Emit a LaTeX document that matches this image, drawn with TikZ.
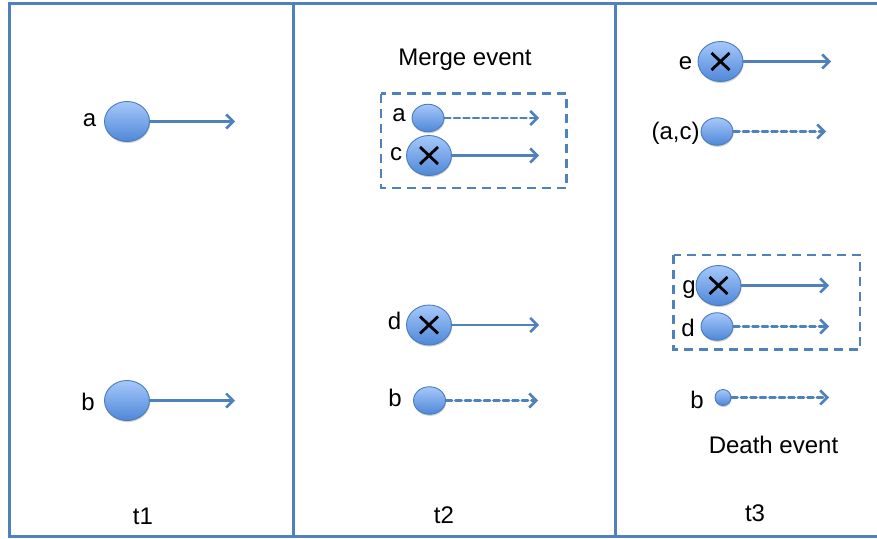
\documentclass[tikz,border=0pt]{standalone}
\usepackage{fontspec}
\setmainfont{Liberation Sans}
\usetikzlibrary{arrows.meta,shapes.geometric,shadows}
\definecolor{frameblue}{HTML}{4F81BD}
\definecolor{ballTop}{HTML}{A6C8FA}
\definecolor{ballMid}{HTML}{80AEF0}
\definecolor{ballBot}{HTML}{4E87D8}
\definecolor{ballEdge}{HTML}{4A7BBB}
\begin{document}
\begin{tikzpicture}[x=1pt,y=-1pt,
  frame/.style={draw=frameblue,line width=3pt},
  ball/.style={ellipse,draw=ballEdge,line width=0.9pt,top color=ballTop,middle color=ballMid,bottom color=ballBot,
    inner sep=0pt,general shadow={shadow xshift=0.6pt,shadow yshift=-1.6pt,fill=black,opacity=0.18}},
  big/.style={ball,minimum width=45pt,minimum height=40pt},
  mid/.style={ball,minimum width=32pt,minimum height=27.5pt},
  tiny/.style={ball,minimum width=16pt,minimum height=16pt},
  crossed/.style={path picture={
    \draw[black,line width=2.8pt]
      ([shift={(-9pt,-8.5pt)}]path picture bounding box.center) -- ([shift={(9pt,8.5pt)}]path picture bounding box.center)
      ([shift={(-9pt,8.5pt)}]path picture bounding box.center) -- ([shift={(9pt,-8.5pt)}]path picture bounding box.center);}},
  txt/.style={font=\fontsize{24}{28}\selectfont,inner sep=0pt,anchor=base},
  flow/.style={draw=frameblue,line width=2.6pt,line cap=round,
    -{Straight Barb[length=7pt,width=14pt,line width=2.6pt]}},
  flowdash/.style={flow,dash pattern=on 6pt off 3.5pt},
  group/.style={draw=frameblue,line width=2.6pt,dash pattern=on 9pt off 6pt},
]
\useasboundingbox (0,0) rectangle (877,538);

% panel frame and dividers
\draw[frame] (877,3) -- (9.5,3) -- (9.5,536.5) -- (877,536.5);
\draw[frame] (293.5,3) -- (293.5,536.5);
\draw[frame] (615,3) -- (615,536.5);

% ---------- t1 ----------
\node[big] (a1) at (127,121.5) {};
\node[txt] (la1) at (89.5,126) {a};
\coordinate (a1e) at (235,121.5);
\draw[flow] (a1.east) -- (a1e);

\node[big] (b1) at (127,400.5) {};
\node[txt] (lb1) at (88,410) {b};
\coordinate (b1e) at (235,400.5);
\draw[flow] (b1.east) -- (b1e);

\node[txt] (t1) at (143,524) {t1};

% ---------- t2 ----------
\node[txt] (merge) at (465,65.5) {Merge event};
\draw[group] (381,93.5) rectangle (566.5,188);

\node[mid] (a2) at (428,118) {};
\node[txt] (la2) at (399,121.5) {a};
\coordinate (a2e) at (539,118);
\draw[flowdash] (a2.east) -- (a2e);

\node[big,crossed] (c2) at (429,155.5) {};
\node[txt] (lc2) at (396,160) {c};
\coordinate (c2e) at (539,155.5);
\draw[flow] (c2.east) -- (c2e);

\node[big,crossed] (d2) at (429,325) {};
\node[txt] (ld2) at (394.5,329.5) {d};
\coordinate (d2e) at (539,325);
\draw[flow] (d2.east) -- (d2e);

\node[mid] (b2) at (429.5,400.5) {};
\node[txt] (lb2) at (395,406.5) {b};
\coordinate (b2e) at (538,400.5);
\draw[flowdash] (b2.east) -- (b2e);

\node[txt] (t2) at (444,523) {t2};

% ---------- t3 ----------
\node[big,crossed] (e3) at (720.5,61.5) {};
\node[txt] (le3) at (685.5,69) {e};
\coordinate (e3e) at (831,61.5);
\draw[flow] (e3.east) -- (e3e);

\node[mid] (ac3) at (717,131.5) {};
\node[txt] (lac3) at (675.5,139.5) {(a,c)};
\coordinate (ac3e) at (826,131.5);
\draw[flowdash] (ac3.east) -- (ac3e);

\draw[group] (673.5,255) rectangle (860,349.5);

\node[big,crossed] (g3) at (718.5,285.5) {};
\node[txt] (lg3) at (689,293) {g};
\coordinate (g3e) at (829,285.5);
\draw[flow] (g3.east) -- (g3e);

\node[mid] (d3) at (717,326.5) {};
\node[txt] (ld3) at (688,336.5) {d};
\coordinate (d3e) at (829,326.5);
\draw[flowdash] (d3.east) -- (d3e);

\node[tiny] (b3) at (723,397.5) {};
\node[txt] (lb3) at (697,408) {b};
\coordinate (b3e) at (829,397.5);
\draw[flowdash] (b3.east) -- (b3e);

\node[txt] (death) at (773.5,453) {Death event};
\node[txt] (t3) at (755,521) {t3};
\end{tikzpicture}
\end{document}
